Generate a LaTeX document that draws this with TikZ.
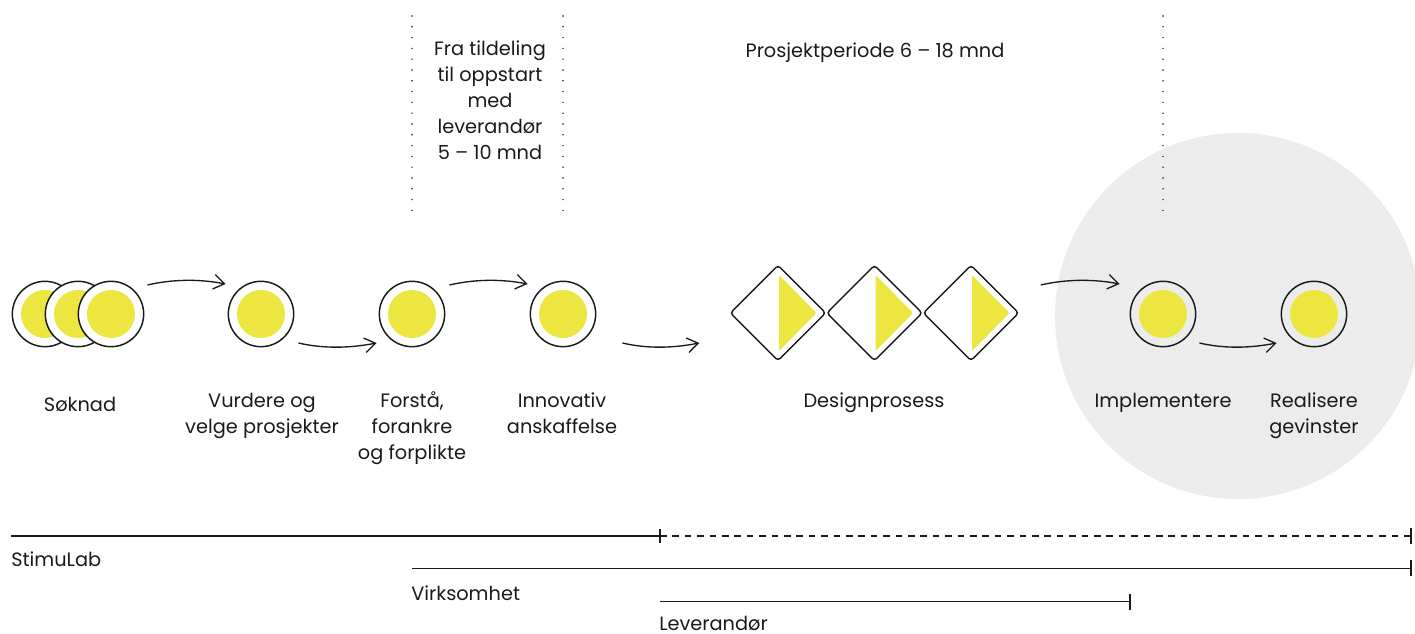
\documentclass[tikz,border=0pt]{standalone}
\usepackage{fontspec}
\setmainfont{Poppins}
\usetikzlibrary{arrows.meta,shapes.geometric,calc}
\definecolor{yel}{HTML}{EDE540}
\definecolor{bgg}{HTML}{ECECEC}
\definecolor{ink}{HTML}{1A1A1A}
\begin{document}
\begin{tikzpicture}[x=0.75pt,y=-0.75pt,
  ring/.style={circle,draw=ink,line width=1.1pt,fill=white,minimum size=49pt,inner sep=0pt,
    path picture={\fill[yel] (path picture bounding box.center) circle (18pt);}},
  dia/.style={diamond,draw=ink,line width=1.1pt,fill=white,minimum width=72pt,minimum height=72pt,
    inner sep=0pt,rounded corners=2.5pt},
  tri/.style={fill=yel,rounded corners=1.5pt},
  arr/.style={draw=ink,line width=1pt,-{Straight Barb[length=8pt,width=11pt,line width=1pt]}},
  bowup/.style={to path={.. controls ($(\tikztostart)+(26,-6)$) and ($(\tikztotarget)+(-26,-5)$) .. (\tikztotarget)}},
  bowdn/.style={to path={.. controls ($(\tikztostart)+(26,6)$) and ($(\tikztotarget)+(-26,5)$) .. (\tikztotarget)}},
  lbl/.style={font=\fontsize{14.5}{19.5}\selectfont,text=ink,align=center,inner sep=0pt,anchor=base},
  llbl/.style={font=\fontsize{14.5}{19.5}\selectfont,text=ink,inner sep=0pt,anchor=base west},
  dots/.style={draw=ink,line width=1.2pt,line cap=round,dash pattern=on 0pt off 8.1pt},
  tl/.style={draw=ink,line width=1pt},
]
\useasboundingbox (0,0) rectangle (1415,634);
% background circle
\fill[bgg] (1238,316) circle (137.25pt);
% dotted separators
\draw[dots] (412,16) -- (412,212);
\draw[dots] (563,16) -- (563,212);
\draw[dots] (1163,16) -- (1163,212);
% top texts (base anchor = last line baseline)
\node[lbl] (t1) at (490,160) {Fra tildeling\\til oppstart\\med\\leverandør\\5 – 10 mnd};
\node[lbl] (t2) at (875,57.3) {Prosjektperiode 6 – 18 mnd};
% circles
\node[ring] (n1a) at (45,314) {};
\node[ring] (n1b) at (78,314) {};
\node[ring] (n1c) at (111,314) {};
\node[ring] (n2) at (261,314) {};
\node[ring] (n3) at (412,314) {};
\node[ring] (n4) at (563,314) {};
\node[ring,fill=bgg] (n5) at (1163,314) {};
\node[ring,fill=bgg] (n6) at (1314,314) {};
% diamonds
\node[dia] (d1) at (778,313) {};
\node[dia] (d2) at (874.5,313) {};
\node[dia] (d3) at (971,313) {};
\foreach \d in {d1,d2,d3}{
  \fill[tri] (\d.center) +(1,-38) -- +(38.5,0) -- +(1,38) -- cycle;
}
% arrows
\coordinate (a1s) at ([shift={(3,-29)}]n1c.east);
\coordinate (a1e) at ([shift={(-2,-30)}]n2.west);
\draw[arr,bowup] (a1s) to (a1e);
\coordinate (a2s) at ([shift={(4,29)}]n2.east);
\coordinate (a2e) at ([shift={(-2,29)}]n3.west);
\draw[arr,bowdn] (a2s) to (a2e);
\coordinate (a3s) at ([shift={(4,-29)}]n3.east);
\coordinate (a3e) at ([shift={(-2,-30)}]n4.west);
\draw[arr,bowup] (a3s) to (a3e);
\coordinate (a4s) at ([shift={(26,29)}]n4.east);
\coordinate (a4e) at ([shift={(-30,30)}]d1.west);
\draw[arr,bowdn] (a4s) to (a4e);
\coordinate (a5s) at ([shift={(21,-28)}]d3.east);
\coordinate (a5e) at ([shift={(-10,-30)}]n5.west);
\draw[arr,bowup] (a5s) to (a5e);
\coordinate (a6s) at ([shift={(3,29)}]n5.east);
\coordinate (a6e) at ([shift={(-4,29)}]n6.west);
\draw[arr,bowdn] (a6s) to (a6e);
% step labels (base anchor = last line baseline)
\node[lbl] (l1) at (80,411.5) {Søknad};
\node[lbl] (l2) at (262,433.5) {Vurdere og\\velge prosjekter};
\node[lbl] (l3) at (412,459.5) {Forstå,\\forankre\\og forplikte};
\node[lbl] (l4) at (562,433.5) {Innovativ\\anskaffelse};
\node[lbl] (l5) at (874,407.5) {Designprosess};
\node[lbl] (l6) at (1163,407.5) {Implementere};
\node[lbl] (l7) at (1314,433.5) {Realisere\\gevinster};
% timelines
\coordinate (s0) at (11,536);
\coordinate (s1) at (660,536);
\coordinate (s2) at (1411,536);
\draw[tl] (s0) -- (s1);
\draw[tl,dash pattern=on 5pt off 4.3pt] (s1) -- (s2);
\draw[tl] ([yshift=-5]s1) -- ([yshift=5]s1);
\draw[draw=ink,line width=2pt] ([yshift=-6]s2) -- ([yshift=6]s2);
\node[llbl] (lb1) at (11,566.7) {StimuLab};
\coordinate (v0) at (412,568.3);
\coordinate (v1) at (1411,568.3);
\draw[tl] (v0) -- (v1);
\draw[draw=ink,line width=2pt] ([yshift=-6]v1) -- ([yshift=6]v1);
\node[llbl] (lb2) at (411,600) {Virksomhet};
\coordinate (w0) at (660,601.7);
\coordinate (w1) at (1130,601.7);
\draw[tl] (w0) -- (w1);
\draw[tl] ([yshift=-6]w1) -- ([yshift=6]w1);
\node[llbl] (lb3) at (659,630) {Leverandør};
\end{tikzpicture}
\end{document}
